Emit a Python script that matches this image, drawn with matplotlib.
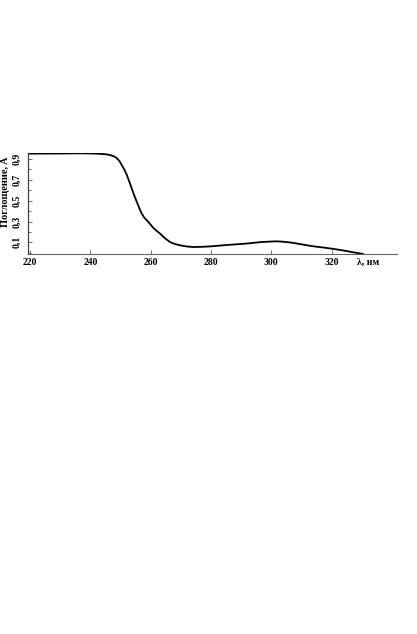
import matplotlib
matplotlib.use('Agg')
import matplotlib.pyplot as plt
import numpy as np

# absorption spectrum
wl = [219.3, 230.0, 236.6, 241.0, 243.2, 245.0, 246.5, 247.8, 248.8, 249.7,
      250.4, 251.3, 252.1, 252.9, 253.7, 254.5, 255.4, 256.2, 257.0, 257.8,
      258.7, 259.8, 260.9, 262.0, 263.1, 264.7, 266.4, 268.0, 269.8, 272.0,
      274.2, 277.0, 279.7, 285.5, 291.3, 296.8, 299.5, 301.8, 304.3, 306.8,
      310.0, 313.4, 316.8, 320.1, 323.5, 326.7, 330.5]
absorb = [0.952, 0.953, 0.955, 0.953, 0.950, 0.946, 0.939, 0.926, 0.907, 0.878,
          0.842, 0.796, 0.746, 0.683, 0.618, 0.553, 0.488, 0.430, 0.377, 0.340,
          0.312, 0.276, 0.238, 0.210, 0.184, 0.140, 0.103, 0.084, 0.071, 0.060,
          0.055, 0.057, 0.061, 0.075, 0.087, 0.103, 0.107, 0.110, 0.105, 0.097,
          0.081, 0.064, 0.052, 0.039, 0.024, 0.007, -0.012]

xticks = [220, 240, 260, 280, 300, 320]
yticks = [0.1, 0.3, 0.5, 0.7, 0.9]
yticklabels = ['0,1', '0,3', '0,5', '0,7', '0,9']

plt.rcParams['font.family'] = ['Liberation Serif', 'DejaVu Serif']

W, H = 417, 634
fig = plt.figure(figsize=(W / 100, H / 100), dpi=100)
ax = fig.add_axes([28 / W, 1 - 254 / H, (397 - 28) / W, 101 / H])

ax.plot(wl, absorb, color='black', lw=1.3, solid_capstyle='round',
        solid_joinstyle='round')

ax.set_xlim(219.3, 341.7)
ax.set_ylim(-0.012, 0.958)

ax.spines['top'].set_visible(False)
ax.spines['right'].set_visible(False)
ax.spines['left'].set_color('#444444')
ax.spines['bottom'].set_color('#666666')
ax.spines['left'].set_linewidth(0.9)
ax.spines['bottom'].set_linewidth(0.8)

ax.set_xticks(xticks)
ax.set_xticklabels([str(t) for t in xticks], fontsize=7, fontweight='bold')
ax.set_yticks(yticks)
ax.set_yticklabels(yticklabels, fontsize=7, fontweight='bold', rotation=90,
                   va='center')
ax.set_yticks(np.arange(0.0, 0.95, 0.1), minor=True)
ax.tick_params(axis='both', direction='in', length=3, width=0.6, color='#555555')
ax.tick_params(axis='y', which='minor', direction='in', length=2, width=0.6,
               color='#555555')
ax.tick_params(axis='x', pad=3)
ax.tick_params(axis='y', pad=5)

ax.text(-0.062, 0.62, 'Поглощение, A', transform=ax.transAxes, rotation=90,
        fontsize=7.5, fontweight='bold', ha='center', va='center')
ax.text(328.3, -0.085, 'λ, нм', fontsize=7, fontweight='bold',
        ha='left', va='center', transform=ax.get_xaxis_transform())

fig.savefig('out.png', dpi=100)
